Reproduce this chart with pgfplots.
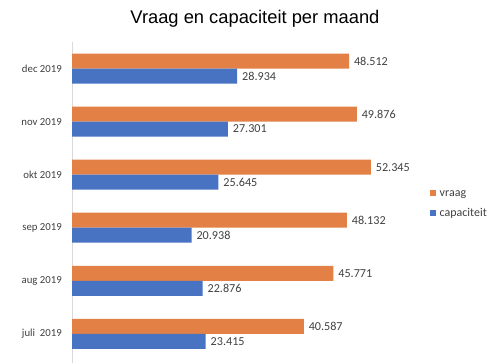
\documentclass[border=0pt]{standalone}
\usepackage{fontspec}
\setmainfont{Carlito}
\newfontfamily\titlefont{Liberation Sans}
\usepackage{pgfplots}
\pgfplotsset{compat=1.18}
\definecolor{cOrange}{RGB}{226,128,70}
\definecolor{cBlue}{RGB}{72,114,194}
\definecolor{cText}{RGB}{64,64,64}
\definecolor{cAxis}{RGB}{217,217,217}
\begin{document}
\begin{tikzpicture}
\path[use as bounding box] (0,0) rectangle (500bp,363bp);
\begin{axis}[
  at={(72bp,0bp)}, anchor=south west,
  scale only axis,
  width=342.6bp, height=321bp,
  xmin=0, xmax=60000,
  ymin=-0.55, ymax=5.5,
  xbar, bar width=15bp,
  hide x axis,
  axis y line*=left,
  y axis line style={draw=cAxis, line width=0.8bp},
  ytick={0,1,2,3,4,5},
  yticklabels={juli~~2019, aug 2019, sep 2019, okt 2019, nov 2019, dec 2019},
  ytick style={draw=none},
  major tick length=0pt,
  yticklabel style={font=\fontsize{10.8}{12}\selectfont, text=cText, inner sep=0pt, xshift=-10bp},
  /pgf/number format/assume math mode=true,
  /pgf/number format/1000 sep={.},
  nodes near coords,
  nodes near coords style={font=\fontsize{12.2}{13}\selectfont, text=cText, xshift=1.5bp, /pgf/number format/assume math mode=true, /pgf/number format/1000 sep={.}},
  title={\titlefont Vraag en capaciteit per maand},
  title style={at={(0.534,1.040)}, anchor=base, font=\fontsize{18.4}{20}\selectfont, inner sep=0pt},
  legend style={at={(1.045,0.497)}, anchor=west, draw=none, fill=none, inner sep=0pt,
    font=\fontsize{12}{12}\selectfont, text=cText, row sep=8bp, column sep=2.5bp,
    nodes={inner sep=1bp, text height=8bp, text depth=2bp}},
  legend cell align=left,
  legend image code/.code={\fill[#1] (0bp,-3bp) rectangle (6bp,3bp);},
  clip=false,
]
\addplot[fill=cOrange, draw=none, bar shift=7.5bp] coordinates {
 (40587,0) (45771,1) (48132,2) (52345,3) (49876,4) (48512,5)};
\addplot[fill=cBlue, draw=none, bar shift=-7.5bp] coordinates {
 (23415,0) (22876,1) (20938,2) (25645,3) (27301,4) (28934,5)};
\legend{vraag, capaciteit}
\end{axis}
\end{tikzpicture}
\end{document}
